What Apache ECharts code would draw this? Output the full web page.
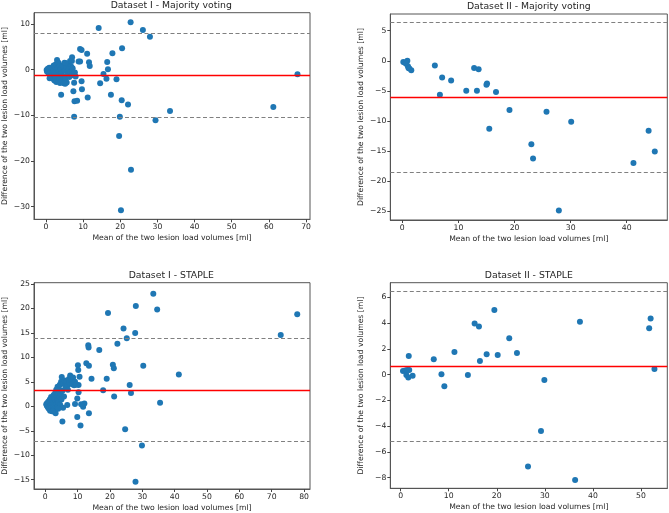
<!DOCTYPE html>
<html><head><meta charset="utf-8">
<script src="https://cdn.jsdelivr.net/npm/echarts@6/dist/echarts.min.js"></script>
<style>html,body{margin:0;padding:0;background:#fff}#c{width:669px;height:513px}</style>
</head><body><div id="c"></div>
<script>
// ---- Dataset I - Majority voting ----
const p1Mean = [14.2,22.8,26.1,28.0,9.2,9.6,11.1,20.5,17.9,7.05,8.8,9.2,11.6,11.8,16.5,16.7,15.5,16.3,14.6,19.0,9.6,9.7,17.5,11.25,4.1,7.4,7.6,7.7,8.4,20.4,22.1,7.6,19.9,29.5,33.4,19.7,22.9,20.2,61.2,67.7,
  0.2,0.3,0.5,0.6,0.8,0.9,1.0,1.1,1.2,1.3,1.4,1.5,1.6,1.7,1.8,1.9,2.0,2.1,2.2,2.3,2.4,2.5,2.6,2.7,2.8,2.9,3.0,3.1,3.2,3.3,3.4,3.5,3.6,3.7,3.8,3.9,4.0,4.2,4.3,4.5,4.6,4.8,5.0,5.1,5.3,5.5,5.6,5.8,6.0,6.2,6.3,6.5,6.6,6.8,7.0,7.2,7.5,7.8,8.0,5.2,7.0,5.25,2.5,1.0];
const p1Diff = [9.1,10.4,8.7,7.2,4.5,4.3,3.5,4.7,3.6,2.7,1.8,1.8,1.6,0.8,1.7,0.1,-0.95,-2.0,-3.0,-2.1,-2.55,-4.3,-5.5,-6.1,-5.5,-4.7,-2.85,-6.9,-6.8,-6.7,-7.6,-10.3,-10.3,-11.1,-9.05,-14.5,-21.9,-30.8,-8.2,-1.0,
  -0.1,-0.4,0.2,-0.6,-0.2,0.4,-0.9,0.1,-1.3,-0.5,0.3,-1.6,-0.8,0.5,-1.1,-2.0,-0.3,0.9,-1.5,-2.4,-0.7,0.6,-1.8,1.2,-2.7,-0.9,2.1,-1.4,0.3,-2.2,1.5,-0.4,-1.8,0.8,-2.9,-1.0,0.2,-2.3,-0.6,0.9,-1.5,-3.0,1.5,-0.2,-1.9,0.6,-2.8,-1.0,1.1,0.1,-1.6,1.9,-0.5,0.7,-1.2,0.3,-0.9,-0.6,-1.5,-3.1,1.9,1.45,-1.2,-1.9];
const p1Lines = [-1.31, 7.88, -10.5]; // mean, upper LoA, lower LoA

// ---- Dataset II - Majority voting ----
const p2Mean = [0.18,0.47,0.9,0.7,1.0,1.1,1.6,1.25,5.8,7.1,8.7,6.7,11.4,12.8,13.6,13.3,15.1,15.0,16.7,15.5,19.1,23.0,23.3,25.7,30.1,27.9,41.2,43.9,45.0];
const p2Diff = [-0.22,-0.33,0.0,-0.5,-0.9,-1.2,-1.6,-1.3,-0.8,-2.8,-3.3,-5.66,-5.0,-1.2,-1.4,-5.0,-3.8,-4.0,-5.2,-11.3,-8.2,-13.9,-16.25,-8.5,-10.15,-24.9,-17.0,-11.65,-15.1];
const p2Lines = [-6.06, 6.37, -18.5];

// ---- Dataset I - STAPLE ----
const p3Mean = [33.4,28.0,34.6,19.4,77.9,24.2,27.8,25.2,72.8,22.3,13.3,13.4,16.7,10.1,12.7,13.5,20.9,21.2,30.3,10.2,10.6,41.3,14.3,19.0,26.1,17.9,26.5,21.3,35.5,10.3,10.3,9.9,9.9,10.9,13.5,5.3,24.7,29.9,27.9,12.1,11.7,11.1,9.2,6.8,
  0.3,0.5,0.6,0.8,0.9,1.0,1.1,1.2,1.3,1.4,1.5,1.6,1.7,1.8,1.9,2.0,2.1,2.2,2.3,2.4,2.5,2.6,2.7,2.8,2.9,3.0,3.1,3.2,3.3,3.4,3.5,3.6,3.7,3.8,3.9,4.0,4.1,4.2,4.4,4.5,4.6,4.8,4.9,5.0,5.1,5.3,5.5,5.6,5.8,6.0,6.3,6.5,6.8,7.0,7.3,7.5,7.7,8.0,8.3,8.6,8.9,9.2,9.5,4.0,2.2];
const p3Diff = [23.0,20.5,19.8,19.1,18.8,15.9,15.0,13.9,14.6,12.8,12.5,12.0,11.5,8.4,8.8,8.3,8.5,7.8,8.3,7.4,6.05,6.5,5.65,5.65,4.35,3.3,2.7,2.0,0.75,2.9,4.35,1.6,-2.2,-3.9,-1.4,-3.1,-4.7,-8.0,-15.4,0.6,-0.07,0.4,0.5,0.27,
  0.4,0.1,0.7,-0.2,0.3,1.0,-0.5,0.5,0.0,1.4,-0.9,0.8,0.2,1.9,-0.3,0.6,1.2,-1.0,0.4,1.7,0.0,2.3,0.9,-0.6,1.5,0.2,2.8,-1.4,1.0,3.4,0.5,2.0,-0.2,4.0,1.3,2.7,0.8,3.6,1.9,4.4,0.3,2.5,5.0,1.4,6.0,3.2,-0.3,4.6,2.0,5.3,3.9,5.0,4.2,3.4,5.6,4.8,6.3,5.4,4.5,5.9,4.3,5.0,4.4,-0.5,-1.0];
const p3Lines = [3.35, 13.88, -7.07];

// ---- Dataset II - STAPLE ----
const p4Mean = [0.5,0.97,1.2,1.4,1.6,1.8,1.7,2.5,6.9,8.5,9.1,11.2,14.0,15.4,16.3,16.5,17.9,19.5,20.2,22.6,24.2,26.5,29.2,29.9,36.3,37.3,51.7,52.0,52.8];
const p4Diff = [0.28,0.31,-0.03,0.36,-0.23,0.36,1.45,-0.08,1.19,0.03,-0.9,1.76,-0.03,3.96,3.73,1.06,1.58,5.02,1.53,2.82,1.68,-7.12,-4.37,-0.41,-8.18,4.11,3.6,4.35,0.44];
const p4Lines = [0.64, 6.44, -5.15];

// ---- Axis extents and tick labels ----
const p1X = [-3.2, 71.07], p1Y = [-32.76, 12.47];
const p2X = [-2.14, 47.23], p2Y = [-26.5, 7.78];
const p3X = [-3.48, 81.85], p3Y = [-16.9, 25.27];
const p4X = [-2.14, 55.47], p4Y = [-8.82, 7.13];
const p1XTicks = [0,10,20,30,40,50,60,70], p1YTicks = [-30,-20,-10,0,10];
const p2XTicks = [0,10,20,30,40], p2YTicks = [-25,-20,-15,-10,-5,0,5];
const p3XTicks = [0,10,20,30,40,50,60,70,80], p3YTicks = [-15,-10,-5,0,5,10,15,20,25];
const p4XTicks = [0,10,20,30,40,50], p4YTicks = [-8,-6,-4,-2,0,2,4,6];

const titles = ['Dataset I - Majority voting','Dataset II - Majority voting','Dataset I - STAPLE','Dataset II - STAPLE'];
const xName = 'Mean of the two lesion load volumes [ml]';
const yName = 'Difference of the two lesion load volumes [ml]';

const FONT = 'DejaVu Sans';
const TXT = '#262626';
const grids = [
  {left: 32.5, top: 12.7, width: 277.5, height: 206.6},
  {left: 390.3, top: 14, width: 277, height: 206},
  {left: 32.5, top: 282.7, width: 277.5, height: 206.6},
  {left: 390.3, top: 282.7, width: 277, height: 205.6}
];
const panels = [
  {mx: p1Mean, dy: p1Diff, lines: p1Lines, xr: p1X, yr: p1Y, xt: p1XTicks, yt: p1YTicks},
  {mx: p2Mean, dy: p2Diff, lines: p2Lines, xr: p2X, yr: p2Y, xt: p2XTicks, yt: p2YTicks},
  {mx: p3Mean, dy: p3Diff, lines: p3Lines, xr: p3X, yr: p3Y, xt: p3XTicks, yt: p3YTicks},
  {mx: p4Mean, dy: p4Diff, lines: p4Lines, xr: p4X, yr: p4Y, xt: p4XTicks, yt: p4YTicks}
];
const fmt = v => (v < 0 ? '\u2212' + Math.abs(v) : String(v));

const option = {
  animation: false,
  backgroundColor: '#fff',
  grid: grids.map(g => Object.assign({show: true, borderColor: '#555', borderWidth: 1, backgroundColor: 'transparent', containLabel: false}, g)),
  xAxis: panels.map((p, i) => ({
    type: 'value', gridIndex: i, min: p.xr[0], max: p.xr[1],
    name: xName, nameLocation: 'middle', nameGap: 15,
    nameTextStyle: {fontFamily: FONT, fontSize: 7.7, color: TXT},
    axisLine: {show: true, onZero: false, lineStyle: {color: '#555', width: 1}},
    axisTick: {show: true, inside: false, length: 3, customValues: p.xt, lineStyle: {color: '#444'}},
    axisLabel: {show: true, customValues: p.xt, margin: 4, formatter: fmt, fontFamily: FONT, fontSize: 7.7, color: TXT},
    splitLine: {show: false}
  })),
  yAxis: panels.map((p, i) => ({
    type: 'value', gridIndex: i, min: p.yr[0], max: p.yr[1],
    name: yName, nameLocation: 'middle', nameGap: 25,
    nameTextStyle: {fontFamily: FONT, fontSize: 7.7, color: TXT},
    axisLine: {show: true, onZero: false, lineStyle: {color: '#555', width: 1}},
    axisTick: {show: true, inside: false, length: 3, customValues: p.yt, lineStyle: {color: '#444'}},
    axisLabel: {show: true, customValues: p.yt, margin: 4, formatter: fmt, fontFamily: FONT, fontSize: 7.7, color: TXT},
    splitLine: {show: false}
  })),
  series: panels.map((p, i) => ({
    type: 'scatter', xAxisIndex: i, yAxisIndex: i,
    data: p.mx.map((x, k) => [x, p.dy[k]]),
    symbolSize: 6,
    itemStyle: {color: '#1f77b4', opacity: 1},
    markLine: {
      silent: true, symbol: 'none', animation: false,
      label: {show: false},
      data: [
        {yAxis: p.lines[0], lineStyle: {color: '#ff0000', width: 1.3, type: 'solid'}},
        {yAxis: p.lines[1], lineStyle: {color: '#808080', width: 1.2, type: [4, 2.5]}},
        {yAxis: p.lines[2], lineStyle: {color: '#808080', width: 1.2, type: [4, 2.5]}}
      ]
    }
  })),
  graphic: grids.map((g, i) => ({
    type: 'text', x: g.left + g.width / 2, y: g.top - 12,
    style: {text: titles[i], textAlign: 'center', textVerticalAlign: 'top', fontFamily: FONT, fontSize: 9.3, fill: TXT}
  }))
};
const chart = echarts.init(document.getElementById('c'), null, {renderer: 'canvas'});
chart.setOption(option);
</script></body></html>
